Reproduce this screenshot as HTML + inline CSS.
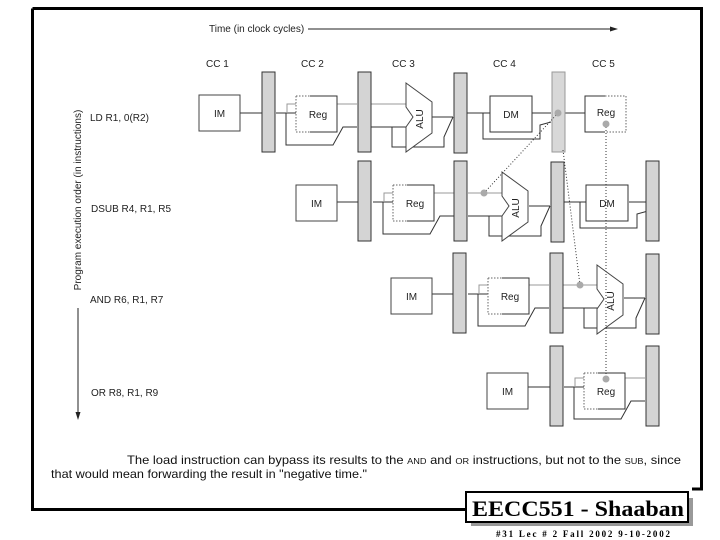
<!DOCTYPE html>
<html><head><meta charset="utf-8"><style>
html,body{margin:0;padding:0;background:#fff;}
svg{display:block;}
text{font-family:"Liberation Sans",Arial,sans-serif;}
</style></head><body>
<svg width="720" height="540" viewBox="0 0 720 540" xmlns="http://www.w3.org/2000/svg">
<defs>
<g id="im"><rect x="0" y="0" width="41" height="36" fill="#fff" stroke="#444" stroke-width="1"/><text x="20.5" y="22" font-size="10" text-anchor="middle" fill="#222">IM</text></g>
<g id="bar"><rect x="0" y="0" width="13" height="80" fill="#d4d4d4" stroke="#333" stroke-width="1"/></g>
<g id="reg">
<path d="M0,0 H41 V36 H0 Z" fill="#fff" stroke="none"/>
<path d="M14,0 H41 V36 H14" fill="none" stroke="#333"/>
<path d="M0,0 H14 M0,0 V36 H14" fill="none" stroke="#666" stroke-dasharray="1.5,1.5"/>
<text x="22" y="22" font-size="10" text-anchor="middle" fill="#222">Reg</text></g>
<g id="regR">
<path d="M0,0 H41 V36 H0 Z" fill="#fff" stroke="none"/>
<path d="M20,36 H0 V0 H20" fill="none" stroke="#333"/>
<path d="M20,0 H41 V36 H20" fill="none" stroke="#666" stroke-dasharray="1.5,1.5"/>
<text x="21" y="20" font-size="10" text-anchor="middle" fill="#222">Reg</text></g>
<g id="dm"><rect x="0" y="0" width="42" height="36" fill="#fff" stroke="#333"/><text x="21" y="22" font-size="10" text-anchor="middle" fill="#222">DM</text></g>
<g id="alu"><path d="M0,0 L26,19 V50 L0,69 V44 L7,34 L0,24 Z" fill="#fff" stroke="#444"/>
<text transform="translate(17,36) rotate(-90)" font-size="10" text-anchor="middle" fill="#222">ALU</text></g>
<g id="w1" fill="none" stroke="#333" stroke-width="1">
<line x1="239" y1="113" x2="262" y2="113"/>
<line x1="276" y1="113" x2="296" y2="113"/>
<path d="M287,113 V104 H296" stroke="#999"/>
<path d="M286,113 V145 H333 L343,127 H357"/>
<line x1="337" y1="104" x2="357" y2="104" stroke="#999"/>
</g>
<g id="w2" fill="none" stroke="#333" stroke-width="1">
<line x1="371" y1="104" x2="406" y2="104" stroke="#999"/>
<line x1="371" y1="127" x2="406" y2="127"/>
<path d="M392,127 V147 H444 L444,137 L453,117" stroke="#333"/>
<line x1="432" y1="117" x2="453" y2="117"/>
</g>
<g id="w3" fill="none" stroke="#333" stroke-width="1">
<line x1="467" y1="113" x2="490" y2="113"/>
<path d="M483,113 V139 H540 V125 L551,122" />
<line x1="532" y1="113" x2="551" y2="113"/>
</g>
</defs>

<!-- frame -->
<path d="M32.5,8.5 H701.5 V489 H692" fill="none" stroke="#000" stroke-width="3"/>
<path d="M32.5,8.5 V509.5 H466" fill="none" stroke="#000" stroke-width="3"/>

<!-- time axis -->
<text x="209" y="32" font-size="10" fill="#222">Time (in clock cycles)</text>
<line x1="308" y1="29" x2="612" y2="29" stroke="#222" stroke-width="1"/>
<path d="M618,29 L610,26.5 L610,31.5 Z" fill="#222"/>
<text x="206" y="67" font-size="10" fill="#222">CC 1</text>
<text x="301" y="67" font-size="10" fill="#222">CC 2</text>
<text x="392" y="67" font-size="10" fill="#222">CC 3</text>
<text x="493" y="67" font-size="10" fill="#222">CC 4</text>
<text x="592" y="67" font-size="10" fill="#222">CC 5</text>

<!-- left axis -->
<text transform="translate(81,200) rotate(-90)" font-size="10" text-anchor="middle" fill="#222">Program execution order (in instructions)</text>
<line x1="78" y1="308" x2="78" y2="414" stroke="#222"/>
<path d="M78,420 L75.5,412 L80.5,412 Z" fill="#222"/>
<text x="90" y="121" font-size="10" fill="#222">LD  R1, 0(R2)</text>
<text x="91" y="212" font-size="10" fill="#222">DSUB R4, R1, R5</text>
<text x="90" y="303" font-size="10" fill="#222">AND R6, R1, R7</text>
<text x="91" y="396" font-size="10" fill="#222">OR R8, R1, R9</text>

<!-- row 1 -->
<g>
<use href="#w1"/><use href="#w2"/><use href="#w3"/>
<line x1="565" y1="113" x2="585" y2="113" stroke="#333"/>
<use href="#im" x="199" y="95"/>
<use href="#bar" x="262" y="72"/>
<use href="#reg" x="296" y="96"/>
<use href="#bar" x="358" y="72"/>
<use href="#alu" x="406" y="83"/>
<use href="#bar" x="454" y="73"/>
<use href="#dm" x="490" y="96"/>
<rect x="552" y="72" width="13" height="80" fill="#d8d8d8" stroke="#999"/>
<use href="#regR" x="585" y="96"/>
</g>
<!-- row 2 -->
<g transform="translate(97,89)">
<use href="#w1"/><use href="#w2"/><use href="#w3"/>
<use href="#im" x="199" y="96"/>
<use href="#bar" x="261" y="72"/>
<use href="#reg" x="296" y="96"/>
<use href="#bar" x="357" y="72"/>
<use href="#alu" x="405" y="83"/>
<use href="#bar" x="454" y="73"/>
<use href="#dm" x="489" y="96"/>
<use href="#bar" x="549" y="72"/>
</g>
<!-- row 3 -->
<g transform="translate(192,181)">
<use href="#w1"/><use href="#w2"/>
<use href="#im" x="199" y="97"/>
<use href="#bar" x="261" y="72"/>
<use href="#reg" x="296" y="97"/>
<use href="#bar" x="358" y="72"/>
<use href="#alu" x="405" y="84"/>
<use href="#bar" x="454" y="73"/>
</g>
<!-- row 4 -->
<g transform="translate(288,274)">
<use href="#w1"/>
<use href="#im" x="199" y="99"/>
<use href="#bar" x="262" y="72"/>
<use href="#reg" x="296" y="99"/>
<use href="#bar" x="358" y="72"/>
</g>

<!-- forwarding -->
<g fill="none" stroke="#333" stroke-width="1" stroke-dasharray="1,2">
<line x1="558" y1="113" x2="484" y2="193"/>
<line x1="563" y1="150" x2="580" y2="285"/>
<line x1="606" y1="124" x2="606" y2="378"/>
</g>
<circle cx="558" cy="113" r="3.5" fill="#aaa"/>
<circle cx="606" cy="124" r="3.5" fill="#aaa"/>
<circle cx="484" cy="193" r="3.5" fill="#aaa"/>
<circle cx="580" cy="285" r="3.5" fill="#aaa"/>
<circle cx="606" cy="379" r="3.5" fill="#aaa"/>

<!-- caption -->
<text x="127" y="464" font-size="12" fill="#111" textLength="554" lengthAdjust="spacingAndGlyphs">The load instruction can bypass its results to the <tspan font-size="8.5">AND</tspan> and <tspan font-size="8.5">OR</tspan> instructions, but not to the <tspan font-size="8.5">SUB</tspan>, since</text>
<text x="51" y="478" font-size="12" fill="#111" textLength="316" lengthAdjust="spacingAndGlyphs">that would mean forwarding the result in "negative time."</text>

<!-- logo -->
<rect x="471" y="498" width="222" height="28" fill="#999"/>
<rect x="466" y="492" width="222" height="30" fill="#fff" stroke="#000" stroke-width="2"/>
<text x="472" y="516" font-size="22" font-weight="bold" fill="#000" textLength="212" lengthAdjust="spacingAndGlyphs" style="font-family:'Liberation Serif',serif">EECC551 - Shaaban</text>
<text x="496" y="537" font-size="9" font-weight="bold" fill="#000" textLength="174" style="font-family:'Liberation Serif',serif">#31   Lec # 2   Fall 2002   9-10-2002</text>
</svg>
</body></html>
